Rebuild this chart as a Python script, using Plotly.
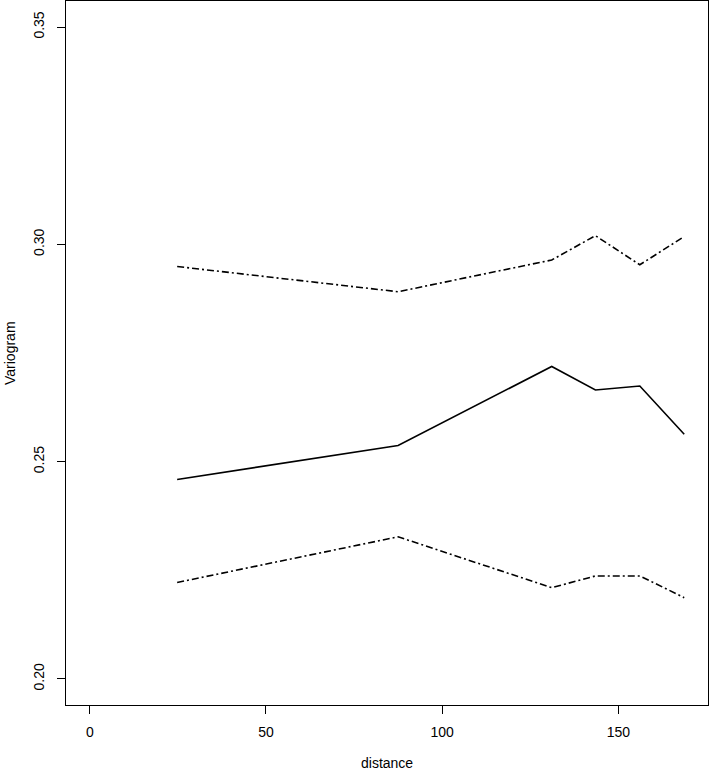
import plotly.graph_objects as go

# Data
distance = [24.8, 87.5, 131.1, 143.5, 156.1, 168.7]
variogram = [0.2459, 0.2537, 0.2719, 0.2665, 0.2674, 0.2563]
upper_env = [0.2949, 0.2891, 0.2964, 0.3020, 0.2953, 0.3018]
lower_env = [0.2222, 0.2327, 0.2210, 0.2237, 0.2237, 0.2187]

x_ticks = [0, 50, 100, 150]
y_ticks = [0.20, 0.25, 0.30, 0.35]
y_tick_text = ["0.20", "0.25", "0.30", "0.35"]

# R-style 4% axis extension
xlim = [0, max(distance)]
ylim = [0.20, 0.35]
xr = xlim[1] - xlim[0]
yr = ylim[1] - ylim[0]
x_range = [xlim[0] - 0.04 * xr, xlim[1] + 0.04 * xr]
y_range = [ylim[0] - 0.04 * yr, ylim[1] + 0.04 * yr]

FONT = "Liberation Sans, Arial, Helvetica, sans-serif"

fig = go.Figure()
fig.add_trace(go.Scatter(x=distance, y=variogram, mode="lines",
                         line=dict(color="black", width=1.6), showlegend=False))
for env in (upper_env, lower_env):
    fig.add_trace(go.Scatter(x=distance, y=env, mode="lines",
                             line=dict(color="black", width=1.6, dash="7px,3px,2px,3px"),
                             showlegend=False))

axis_common = dict(showgrid=False, zeroline=False, showline=True, linecolor="black",
                   linewidth=1.4, mirror=True, ticks="outside", ticklen=8,
                   tickwidth=1.4, tickcolor="black",
                   tickfont=dict(family=FONT, size=14, color="black"))

fig.update_xaxes(range=x_range, tickvals=x_ticks, ticklabelstandoff=6, **axis_common)
fig.update_yaxes(range=y_range, tickvals=y_ticks, ticktext=y_tick_text,
                 tickangle=-90, ticklabelstandoff=7, **axis_common)

fig.add_annotation(text="distance", xref="paper", yref="paper", x=0.5, y=0,
                   yshift=-58, showarrow=False, yanchor="middle",
                   font=dict(family=FONT, size=14, color="black"))
fig.add_annotation(text="Variogram", xref="paper", yref="paper", x=0, y=0.5,
                   xshift=-56, showarrow=False, xanchor="center", textangle=-90,
                   font=dict(family=FONT, size=14, color="black"))

fig.update_layout(width=709, height=771, plot_bgcolor="white", paper_bgcolor="white",
                  margin=dict(l=66, r=1, t=1, b=66))

fig.write_html("out.html", config={"displayModeBar": False},
               post_script="document.body.style.margin='0';document.body.style.overflow='hidden';")
